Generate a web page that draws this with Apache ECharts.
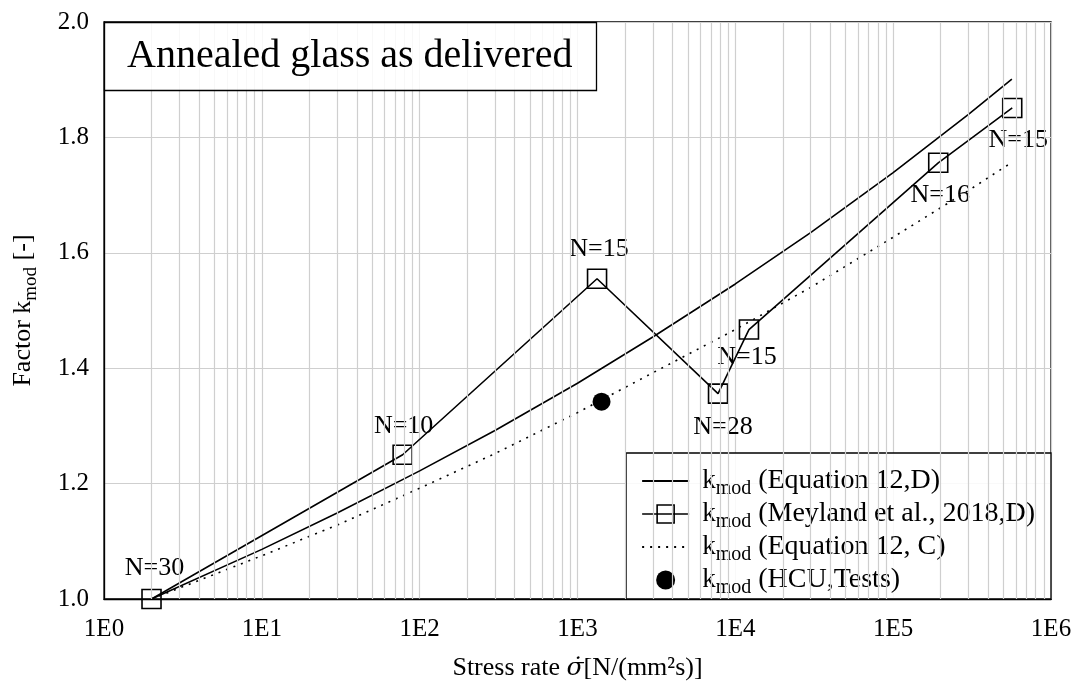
<!DOCTYPE html>
<html>
<head>
<meta charset="utf-8">
<script src="https://cdn.jsdelivr.net/npm/echarts@6/dist/echarts.min.js"></script>
<style>html,body{margin:0;padding:0;background:#fff}#c{width:1077px;height:683px}</style>
</head>
<body>
<div id="c"></div>
<script>
// ---- data ----
const eq12D_x = [2, 10, 30, 100, 300, 1000, 3000, 10000, 30000, 100000, 300000, 565000];
const eq12D_y = [1.000, 1.086, 1.149, 1.222, 1.292, 1.374, 1.454, 1.546, 1.635, 1.739, 1.840, 1.901];

const meyland_x = [2, 78, 1330, 7770, 12200, 193000, 568000];
const meyland_y = [1.000, 1.250, 1.555, 1.356, 1.467, 1.756, 1.851];
const meyland_N = [30, 10, 15, 28, 15, 16, 15];

const eq12C_x = [2, 10, 30, 100, 300, 1000, 3000, 10000, 30000, 100000, 300000, 545000];
const eq12C_y = [1.000, 1.075, 1.128, 1.192, 1.252, 1.323, 1.392, 1.467, 1.540, 1.627, 1.708, 1.754];

const hcu_x = [1420];
const hcu_y = [1.342];

// ---- presentation ----
const FONT = '"Liberation Serif", "DejaVu Serif", serif';
const pair = (xs, ys) => xs.map((x, i) => [x, ys[i]]);

// label placement for the N= labels (position, dx, dy)
const labelPlace = [
  ['top', 3, 2], ['top', 1, 5], ['top', 2, 4], ['bottom', 5, 0],
  ['bottom', -2, -6], ['bottom', 2, -1], ['bottom', 6, -1]
];

// minor log grid lines 2..9 per decade
const minorX = [];
for (let e = 0; e < 6; e++) for (let m = 2; m <= 9; m++) minorX.push(m * Math.pow(10, e));

const legendRich = {
  k: { fontSize: 27, fontFamily: FONT, color: '#000', lineHeight: 30, verticalAlign: 'middle', padding: [0, 0, 0, 8] },
  s: { fontSize: 20, fontFamily: FONT, color: '#000', lineHeight: 20, verticalAlign: 'bottom', padding: [0, 0, -3, 0] },
  t: { fontSize: 28, fontFamily: FONT, color: '#000', lineHeight: 30, verticalAlign: 'middle' }
};
const axisRich = {
  t: { fontSize: 26, fontFamily: FONT, color: '#000', lineHeight: 30, verticalAlign: 'middle' },
  s: { fontSize: 19, fontFamily: FONT, color: '#000', lineHeight: 19, verticalAlign: 'bottom', padding: [0, 0, -3, 0] },
  g: { fontSize: 25, fontFamily: '"DejaVu Serif", serif', fontStyle: 'italic', color: '#000', lineHeight: 30, verticalAlign: 'middle' }
};

const legendText = {
  'eq12D': ' (Equation 12,D)',
  'meyland': ' (Meyland et al., 2018,D)',
  'eq12C': ' (Equation 12, C)',
  'hcu': ' (HCU,Tests)'
};

const chart = echarts.init(document.getElementById('c'), null, { renderer: 'canvas' });

chart.setOption({
  backgroundColor: '#fff',
  animation: false,
  title: {
    text: 'Annealed glass as delivered',
    left: 104, top: 22,
    padding: [12, 24, 12, 23],
    borderColor: '#000', borderWidth: 1.3,
    backgroundColor: 'rgba(255,255,255,0.85)',
    textStyle: { fontFamily: FONT, fontSize: 40, fontWeight: 'normal', color: '#000', lineHeight: 45 }
  },
  grid: {
    left: 104, right: 26, top: 22, bottom: 84,
    outerBoundsMode: 'none', containLabel: false,
    show: true, borderColor: '#000', borderWidth: 1.3, backgroundColor: 'transparent'
  },
  legend: {
    orient: 'vertical',
    right: 26, top: 453,
    padding: [14, 16, 1, 15],
    itemGap: 1,
    itemWidth: 47, itemHeight: 19,
    backgroundColor: 'rgba(255,255,255,0.88)',
    borderColor: '#000', borderWidth: 1.3,
    data: [
      { name: 'eq12D', itemStyle: { opacity: 0 } },
      { name: 'meyland', icon: 'path://M0,9.5H47M15,0.5H32V18.5H15Z',
        itemStyle: { color: 'rgba(0,0,0,0)', borderColor: '#000', borderWidth: 1.6 } },
      { name: 'eq12C', itemStyle: { opacity: 0 } },
      { name: 'hcu', icon: 'circle', itemStyle: { color: '#000', opacity: 1 } }
    ],
    formatter: n => '{k|k}{s|mod}{t|' + legendText[n] + '}',
    textStyle: { rich: legendRich, fontFamily: FONT, fontSize: 28, color: '#000' }
  },
  xAxis: {
    type: 'log', logBase: 10, min: 1, max: 1e6,
    name: '{t|Stress rate }{g|σ̇}{t|[N/(mm²s)]}',
    nameLocation: 'middle', nameGap: 54,
    nameTextStyle: { rich: axisRich, fontFamily: FONT, fontSize: 26, color: '#000' },
    axisLine: { show: true, lineStyle: { color: '#000', width: 1.3 } },
    axisTick: { show: false },
    axisLabel: {
      fontFamily: FONT, fontSize: 25, color: '#000', margin: 18,
      formatter: v => '1E' + Math.round(Math.log10(v))
    },
    splitLine: { show: true, lineStyle: { color: '#cfcfcf', width: 1.2 } },
    minorTick: { show: false }, minorSplitLine: { show: false }
  },
  yAxis: {
    type: 'value', min: 1.0, max: 2.0, interval: 0.2,
    name: '{t|Factor k}{s|mod}{t| [-]}',
    nameLocation: 'middle', nameGap: 66, nameRotate: 90,
    nameTextStyle: { rich: axisRich, fontFamily: FONT, fontSize: 26, color: '#000' },
    axisLine: { show: true, lineStyle: { color: '#000', width: 1.3 } },
    axisTick: { show: false },
    axisLabel: { fontFamily: FONT, fontSize: 25, color: '#000', margin: 15, formatter: v => v.toFixed(1) },
    splitLine: { show: true, lineStyle: { color: '#cfcfcf', width: 1.2 } }
  },
  series: [
    {
      name: 'minorgrid', type: 'line', data: [], z: 1, silent: true,
      markLine: {
        silent: true, symbol: ['none', 'none'], animation: false,
        label: { show: false },
        lineStyle: { color: '#cfcfcf', width: 1.2, type: 'solid' },
        emphasis: { disabled: true },
        data: minorX.map(v => ({ xAxis: v }))
      }
    },
    {
      name: 'eq12D', type: 'line', data: pair(eq12D_x, eq12D_y), z: 3,
      symbol: 'none', color: '#000',
      lineStyle: { color: '#000', width: 1.6 }
    },
    {
      name: 'meyland', type: 'line', data: pair(meyland_x, meyland_y).map((p, i) => ({
        value: p,
        label: { position: labelPlace[i][0], offset: [labelPlace[i][1], labelPlace[i][2]] }
      })), z: 4,
      symbol: 'rect', symbolSize: 19, color: '#000',
      itemStyle: { color: 'rgba(0,0,0,0)', borderColor: '#000', borderWidth: 1.6 },
      lineStyle: { color: '#000', width: 1.6 },
      label: {
        show: true, distance: 10,
        fontFamily: FONT, fontSize: 26, color: '#000',
        formatter: p => 'N=' + meyland_N[p.dataIndex]
      }
    },
    {
      name: 'eq12C', type: 'line', data: pair(eq12C_x, eq12C_y), z: 3,
      symbol: 'none', color: '#000',
      lineStyle: { color: '#000', width: 1.6, type: [2, 6] }
    },
    {
      name: 'hcu', type: 'scatter', data: pair(hcu_x, hcu_y), z: 5,
      symbol: 'circle', symbolSize: 18, color: '#000',
      itemStyle: { color: '#000', opacity: 1 }
    }
  ]
});
</script>
</body>
</html>
